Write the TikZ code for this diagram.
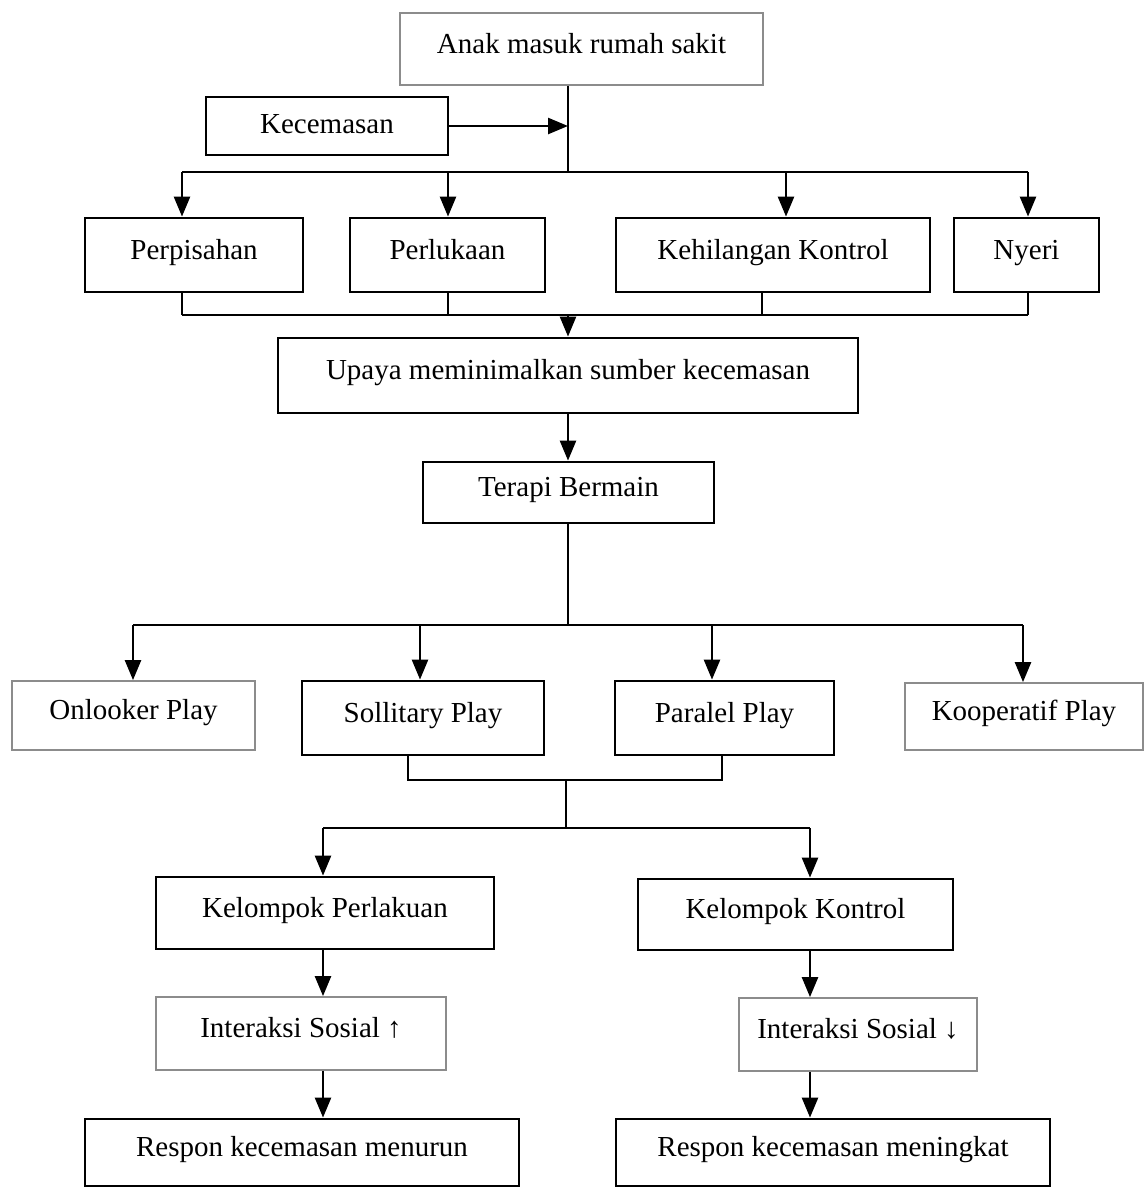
\documentclass[tikz,border=0pt]{standalone}
\usepackage{fontspec}
\setmainfont{Liberation Serif}
\usetikzlibrary{arrows.meta}
\begin{document}
\begin{tikzpicture}[x=0.5pt,y=-0.5pt,
  line width=1.25pt,
  box/.style={draw=black, line width=1.4pt, rectangle, inner sep=0pt, fill=white,
    font=\fontsize{14.5}{17}\selectfont, text height=10pt, text depth=6pt},
  lbox/.style={box, draw=black!45, line width=0.9pt},
  arr/.style={-{Triangle[width=8pt,length=10pt]}}]
\useasboundingbox (0,0) rectangle (1146,1189);
% nodes
\node[lbox, minimum width=181.5pt, minimum height=36pt] (anak) at (581.5,49) {Anak masuk rumah sakit};
\node[box, minimum width=121pt, minimum height=29pt, text depth=3pt] (kec) at (327,126) {Kecemasan};
\node[box, minimum width=109pt, minimum height=37pt] (pisah) at (194,255) {Perpisahan};
\node[box, minimum width=97.5pt, minimum height=37pt] (luka) at (447.5,255) {Perlukaan};
\node[box, minimum width=157pt, minimum height=37pt] (kontrol) at (773,255) {Kehilangan Kontrol};
\node[box, minimum width=72.5pt, minimum height=37pt] (nyeri) at (1026.5,255) {Nyeri};
\node[box, minimum width=290pt, minimum height=37.5pt] (upaya) at (568,375.5) {Upaya meminimalkan sumber kecemasan};
\node[box, minimum width=145.5pt, minimum height=30.5pt] (terapi) at (568.5,492.5) {Terapi Bermain};
\node[lbox, minimum width=121.5pt, minimum height=34.5pt] (onl) at (133.5,715.5) {Onlooker Play};
\node[box, minimum width=121pt, minimum height=37pt] (sol) at (423,718) {Sollitary Play};
\node[box, minimum width=109.5pt, minimum height=37pt] (par) at (724.5,718) {Paralel Play};
\node[lbox, minimum width=119pt, minimum height=33.5pt] (koop) at (1024,716.5) {Kooperatif Play};
\node[box, minimum width=169pt, minimum height=36pt] (kp) at (325,913) {Kelompok Perlakuan};
\node[box, minimum width=157.5pt, minimum height=35.5pt] (kk) at (795.5,914.5) {Kelompok Kontrol};
\node[lbox, minimum width=145pt, minimum height=36.5pt] (is1) at (301,1033.5) {Interaksi Sosial ↑};
\node[lbox, minimum width=119pt, minimum height=36.5pt] (is2) at (858,1034.5) {Interaksi Sosial ↓};
\node[box, minimum width=217pt, minimum height=33.5pt] (r1) at (302,1152.5) {Respon kecemasan menurun};
\node[box, minimum width=217pt, minimum height=33.5pt] (r2) at (833,1152.5) {Respon kecemasan meningkat};
% top section
\coordinate (a1) at (568,172);
\draw (a1 |- anak.south) -- (a1);
\draw[arr] (kec.east) -- (a1 |- kec.east);
\coordinate (d1) at (182,172);
\coordinate (d2) at (448,172);
\coordinate (d3) at (786,172);
\coordinate (d4) at (1028,172);
\draw (d1) -- (d4);
\foreach \d/\n in {d1/pisah,d2/luka,d3/kontrol,d4/nyeri}
  \draw[arr] (\d) -- (\d |- \n.north);
\coordinate (u1) at (182,315);
\coordinate (u2) at (448,315);
\coordinate (u3) at (762,315);
\coordinate (u4) at (1028,315);
\coordinate (u0) at (568,315);
\foreach \u/\n in {u1/pisah,u2/luka,u3/kontrol,u4/nyeri}
  \draw (\u |- \n.south) -- (\u);
\draw (u1) -- (u4);
\draw[arr] (u0) -- (u0 |- upaya.north);
\draw[arr] (upaya.south) -- (upaya.south |- terapi.north);
% play section
\coordinate (p0) at (568,625);
\draw (p0 |- terapi.south) -- (p0);
\coordinate (q1) at (133,625);
\coordinate (q2) at (420,625);
\coordinate (q3) at (712,625);
\coordinate (q4) at (1023,625);
\draw (q1) -- (q4);
\foreach \q/\n in {q1/onl,q2/sol,q3/par,q4/koop}
  \draw[arr] (\q) -- (\q |- \n.north);
\coordinate (s1) at (408,780);
\coordinate (s2) at (722,780);
\coordinate (s0) at (566,780);
\draw (s1 |- sol.south) -- (s1) -- (s2) -- (s2 |- par.south);
\coordinate (k0) at (566,828);
\coordinate (k1) at (323,828);
\coordinate (k2) at (810,828);
\draw (s0) -- (k0);
\draw (k1) -- (k2);
\draw[arr] (k1) -- (k1 |- kp.north);
\draw[arr] (k2) -- (k2 |- kk.north);
\draw[arr] (k1 |- kp.south) -- (k1 |- is1.north);
\draw[arr] (k1 |- is1.south) -- (k1 |- r1.north);
\draw[arr] (k2 |- kk.south) -- (k2 |- is2.north);
\draw[arr] (k2 |- is2.south) -- (k2 |- r2.north);
\end{tikzpicture}
\end{document}
